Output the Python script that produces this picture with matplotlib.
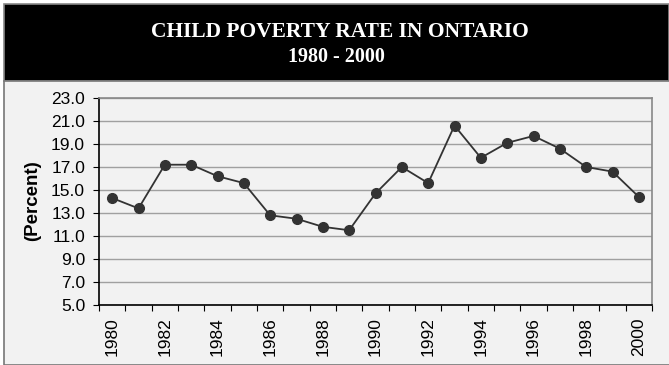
import matplotlib.pyplot as plt
import matplotlib.patches as patches

# child poverty rate, Ontario
years = list(range(1980, 2001))
rate = [14.3, 13.4, 17.2, 17.2, 16.2, 15.6, 12.8, 12.5, 11.8, 11.5,
        14.7, 17.0, 15.6, 20.6, 17.8, 19.1, 19.7, 18.6, 17.0, 16.6, 14.4]
yticks = [5.0, 7.0, 9.0, 11.0, 13.0, 15.0, 17.0, 19.0, 21.0, 23.0]

W, H = 669, 365
fig = plt.figure(figsize=(W / 100, H / 100), dpi=100)
fig.patch.set_facecolor('white')

def fx(px):
    return px / W

def fy(py):
    return 1 - py / H

# black title band + light panel underneath
fig.patches.append(patches.Rectangle((fx(4), fy(81)), fx(665), 77 / H,
                                     transform=fig.transFigure, facecolor='black',
                                     edgecolor='#888888', linewidth=1.2, zorder=-2))
fig.patches.append(patches.Rectangle((fx(4), 0), fx(670), fy(81),
                                     transform=fig.transFigure, facecolor='#f2f2f2',
                                     edgecolor='#777777', linewidth=1.2, zorder=-2))

fig.text(fx(340), fy(32), 'CHILD POVERTY RATE IN ONTARIO', color='white',
         ha='center', va='center', fontsize=15.5, family='Liberation Serif', fontweight='bold')
fig.text(fx(336), fy(57), '1980 - 2000', color='white',
         ha='center', va='center', fontsize=14.5, family='Liberation Serif', fontweight='bold')

ax = fig.add_axes([fx(99), fy(305), fx(652 - 99), (305 - 98) / H])
ax.set_facecolor('#f2f2f2')

x = list(range(len(years)))
ax.plot(x, rate, color='#333333', linewidth=1.3, marker='o', markersize=7,
        markerfacecolor='#333333', markeredgecolor='#333333', zorder=3)

ax.set_xlim(-0.5, len(years) - 0.5)
ax.set_ylim(5, 23)
ax.set_yticks(yticks)
ax.set_yticklabels(['%.1f' % v for v in yticks], fontsize=12.5, family='Liberation Sans')
ax.yaxis.grid(True, color='#a0a0a0', linewidth=1)
ax.set_axisbelow(True)

# ticks sit on category boundaries, labels on every other year
ax.set_xticks([i - 0.5 for i in range(len(years) + 1)])
ax.set_xticklabels([])
ax.set_xticks(x[::2], minor=True)
ax.set_xticklabels([str(y) for y in years[::2]], minor=True, rotation=90,
                   fontsize=12.5, family='Liberation Sans')
ax.tick_params(axis='x', which='minor', length=0, pad=9)
ax.tick_params(axis='x', which='major', length=4, color='black')
ax.tick_params(axis='y', length=4, color='black', pad=6)

ax.spines['left'].set_color('black')
ax.spines['bottom'].set_color('black')
ax.spines['top'].set_color('#888888')
ax.spines['right'].set_color('#888888')
for s in ax.spines.values():
    s.set_linewidth(1.2)

fig.text(fx(33), fy(201), '(Percent)', rotation=90, ha='center', va='center',
         fontsize=13.5, fontweight='bold', family='Liberation Sans')

fig.savefig('out.png', dpi=100, facecolor=fig.get_facecolor())
